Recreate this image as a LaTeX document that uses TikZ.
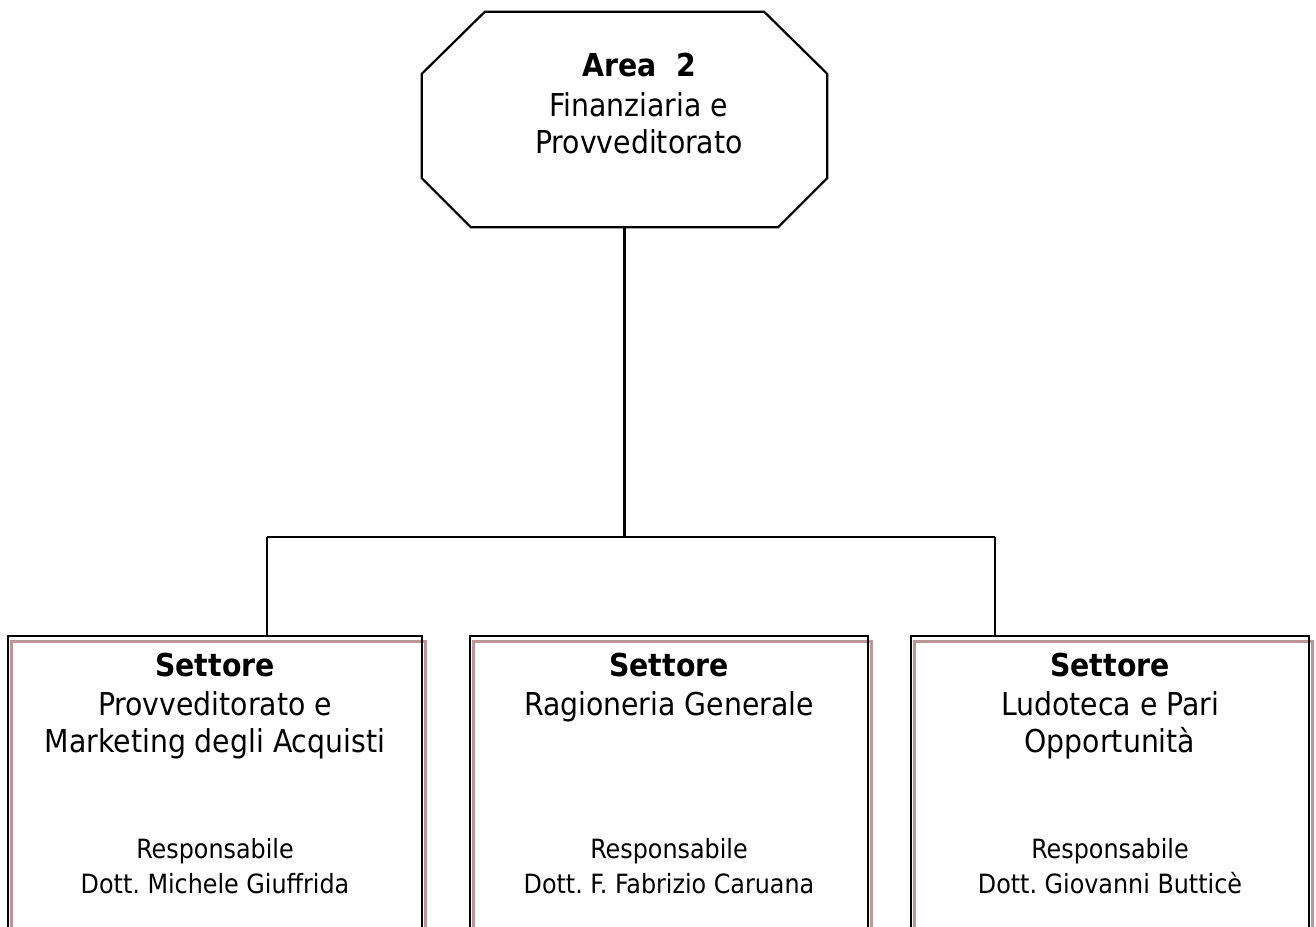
\documentclass[tikz,border=0pt]{standalone}
\usepackage{fontspec}
\setmainfont{DejaVu Sans Condensed}
\usetikzlibrary{calc}
\definecolor{framebrown}{RGB}{188,150,150}
\newcommand{\bigtxt}{\fontsize{31.5}{37}\selectfont}
\newcommand{\smalltxt}{\fontsize{26.5}{32}\selectfont}
\frenchspacing
\begin{document}
\begin{tikzpicture}[x=1pt,y=-1pt,
  line/.style={draw=black,line width=2.2pt},
  shade/.style={draw=framebrown,line width=3pt},
  unitbox/.style={rectangle,draw=none,inner sep=0pt,minimum height=300pt},
  big/.style={anchor=base,inner sep=0pt,font=\bigtxt},
  bigb/.style={anchor=base,inner sep=0pt,font=\bigtxt\bfseries},
  small/.style={anchor=base,inner sep=0pt,font=\smalltxt}]
\useasboundingbox (0,0) rectangle (1316,926);
\clip (0,0) rectangle (1316,926);

% top unit (octagon)
\node[rectangle,draw=none,inner sep=0pt,minimum width=405pt,minimum height=215pt] (oct) at (624.5,119.5) {};
\draw[line] ([xshift=63pt]oct.north west) -- ([xshift=-63pt]oct.north east)
  -- ([yshift=-62pt]oct.north east) -- ([yshift=49pt]oct.south east)
  -- ([xshift=-49pt]oct.south east) -- ([xshift=49pt]oct.south west)
  -- ([yshift=49pt]oct.south west) -- ([yshift=-62pt]oct.north west) -- cycle;
\node[bigb] (a1) at (639,76.5) {Area\ \ 2};
\node[big]  (a2) at (639,116) {Finanziaria e};
\node[big]  (a3) at (639,153) {Provveditorato};

% sector boxes
\node[unitbox,minimum width=414pt] (b1) at (215,786) {};
\node[unitbox,minimum width=398pt] (b2) at (669,786) {};
\node[unitbox,minimum width=398pt] (b3) at (1110,786) {};
\foreach \b in {b1,b2,b3}{
  \draw[shade] ([xshift=3.5pt,yshift=-6pt]\b.north west) rectangle ([xshift=3pt,yshift=-6pt]\b.south east);
  \draw[line] (\b.north west) rectangle (\b.south east);
}

% connectors
\coordinate (j1) at (267,537);
\coordinate (j3) at (995,537);
\draw[line] (oct.south) -- (oct.south |- j1);
\draw[line] (j1) -- (j3);
\draw[line] (j1) -- (j1 |- b1.north);
\draw[line] (j3) -- (j3 |- b3.north);

% texts of the sectors
\node[bigb]  (s1a) at (215,676) {Settore};
\node[big]   (s1b) at (215,715) {Provveditorato e};
\node[big]   (s1c) at (215,752) {Marketing degli Acquisti};
\node[small] (s1d) at (215,858) {Responsabile};
\node[small] (s1e) at (215,893) {Dott. Michele Giuffrida};

\node[bigb]  (s2a) at (669,676) {Settore};
\node[big]   (s2b) at (669,715) {Ragioneria Generale};
\node[small] (s2d) at (669,858) {Responsabile};
\node[small] (s2e) at (669,893) {Dott. F. Fabrizio Caruana};

\node[bigb]  (s3a) at (1110,676) {Settore};
\node[big]   (s3b) at (1110,715) {Ludoteca e Pari};
\node[big]   (s3c) at (1110,752) {Opportunità};
\node[small] (s3d) at (1110,858) {Responsabile};
\node[small] (s3e) at (1110,893) {Dott. Giovanni Butticè};
\end{tikzpicture}
\end{document}
